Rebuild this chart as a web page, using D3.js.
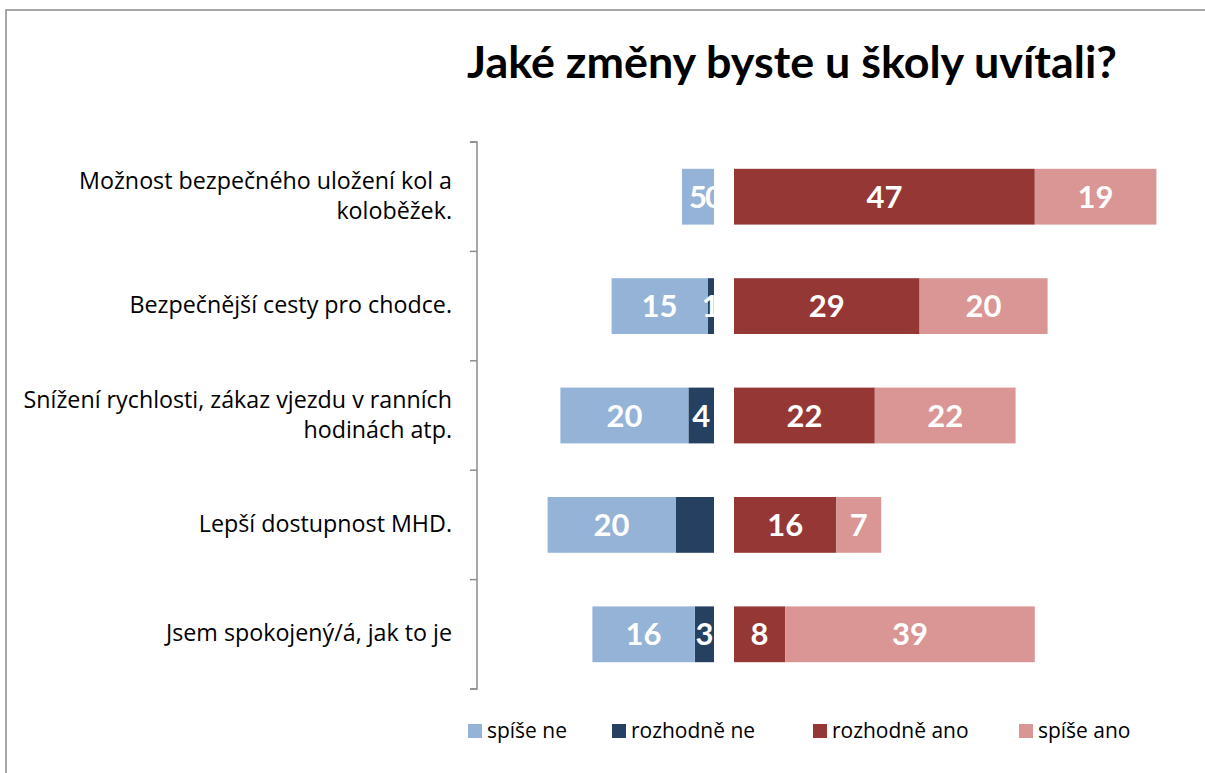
<!DOCTYPE html>
<html><head><meta charset="utf-8">
<script src="https://cdn.jsdelivr.net/npm/d3@7/dist/d3.min.js"></script>
<style>body{margin:0;background:#fff}svg{display:block}</style>
</head><body>
<svg id="c" width="1205" height="773"></svg>
<script>
const title = "Jaké změny byste u školy uvítali?";
const categories = [
  ["Možnost bezpečného uložení kol a", "koloběžek."],
  ["Bezpečnější cesty pro chodce."],
  ["Snížení rychlosti, zákaz vjezdu v ranních", "hodinách atp."],
  ["Lepší dostupnost MHD."],
  ["Jsem spokojený/á, jak to je"]
];
const seriesNames = ["spíše ne", "rozhodně ne", "rozhodně ano", "spíše ano"];
const spiseNe     = [5, 15, 20, 20, 16];
const rozhodneNe  = [0, 1, 4, 6, 3];
const rozhodneAno = [47, 29, 22, 16, 8];
const spiseAno    = [19, 20, 22, 7, 39];
const showLabel   = [[true,true,true,true,true],[true,true,true,false,true],[true,true,true,true,true],[true,true,true,true,true]];
const colors = ["#95B3D7", "#254061", "#953735", "#D99694"];

const svg = d3.select("#c");
const font = "Lato, 'Open Sans', sans-serif";
const font2 = "'Open Sans', Lato, sans-serif";

// frame
svg.append("path").attr("d","M6,773 V10 H1205").attr("fill","none").attr("stroke","#8a8a8a").attr("stroke-width",1.5);

// title
const t = svg.append("text").attr("x",792).attr("y",78).attr("text-anchor","middle")
  .attr("font-family",font).attr("font-weight","bold").attr("font-size",40).attr("fill","#000").text(title);
{ const w = t.node().getComputedTextLength(); t.attr("font-size", 40*650/w); }

// scales
const y = d3.scaleBand().domain(d3.range(categories.length)).range([142, 689]).paddingInner(0.49).paddingOuter(0.245);
const unit = 6.4;
const x = d3.scaleLinear().domain([-30, 70]).range([714 - 30*unit, 714 + 70*unit]);
const gap = 20; // gap between negative and positive side

// axis
const axis = d3.axisLeft(d3.scaleBand().domain(d3.range(categories.length)).range([142,689]))
  .tickSize(0).tickFormat("");
const ag = svg.append("g").attr("transform","translate(477,0)").call(axis);
ag.select(".domain").attr("stroke","#8c8c8c").attr("stroke-width",1.5).attr("d","M-7,142 H0 V689 H-7");
const bandStep = (689-142)/categories.length;
d3.range(categories.length+1).forEach(i=>{
  ag.append("line").attr("x1",-7).attr("x2",0).attr("y1",142+i*bandStep).attr("y2",142+i*bandStep)
    .attr("stroke","#8c8c8c").attr("stroke-width",1.5);
});

// measure font size for category labels
const probe = svg.append("text").attr("font-family",font2).attr("font-size",20).text(categories[0][0]);
const catSize = 20*373/probe.node().getComputedTextLength();
probe.text(seriesNames[0]);
const legSize = 20*80/probe.node().getComputedTextLength();
probe.remove();

// category labels
categories.forEach((lines,i)=>{
  const cy = y(i) + y.bandwidth()/2;
  const lh = 30;
  const tx = svg.append("text").attr("text-anchor","end").attr("font-family",font2)
    .attr("font-size",catSize).attr("fill","#000");
  lines.forEach((l,j)=>{
    tx.append("tspan").attr("x",452).attr("y", cy + (j - (lines.length-1)/2)*lh + 7).text(l);
  });
});

// segments
const rows = categories.map((c,i)=>{
  const segs = [];
  segs.push({s:1, v:rozhodneNe[i], x0:x(-rozhodneNe[i]), x1:x(0)});
  segs.push({s:0, v:spiseNe[i], x0:x(-rozhodneNe[i]-spiseNe[i]), x1:x(-rozhodneNe[i])});
  segs.push({s:2, v:rozhodneAno[i], x0:x(0)+gap, x1:x(rozhodneAno[i])+gap});
  segs.push({s:3, v:spiseAno[i], x0:x(rozhodneAno[i])+gap, x1:x(rozhodneAno[i]+spiseAno[i])+gap});
  segs.forEach(d=>d.i=i);
  return segs;
}).flat();

svg.append("g").selectAll("rect").data(rows).join("rect")
  .attr("x",d=>d.x0).attr("width",d=>Math.max(0,d.x1-d.x0))
  .attr("y",d=>y(d.i)).attr("height",y.bandwidth())
  .attr("fill",d=>colors[d.s]);

// value labels
[0,1,2,3].forEach(s=>{
  svg.append("g").selectAll("text").data(rows.filter(d=>d.s===s && showLabel[s][d.i])).join("text")
    .attr("x",d=>(d.x0+d.x1)/2).attr("y",d=>y(d.i)+y.bandwidth()/2+11)
    .attr("text-anchor","middle").attr("font-family",font).attr("font-weight","bold")
    .attr("font-size",31).attr("fill","#fff").text(d=>d.v);
});

// legend
const legX = [468, 612, 813, 1019];
const lg = svg.append("g");
seriesNames.forEach((n,k)=>{
  lg.append("rect").attr("x",legX[k]).attr("y",724).attr("width",14).attr("height",14).attr("fill",colors[k]);
  lg.append("text").attr("x",legX[k]+19).attr("y",738).attr("font-family",font2).attr("font-size",legSize)
    .attr("fill","#000").text(n);
});
</script>
</body></html>
